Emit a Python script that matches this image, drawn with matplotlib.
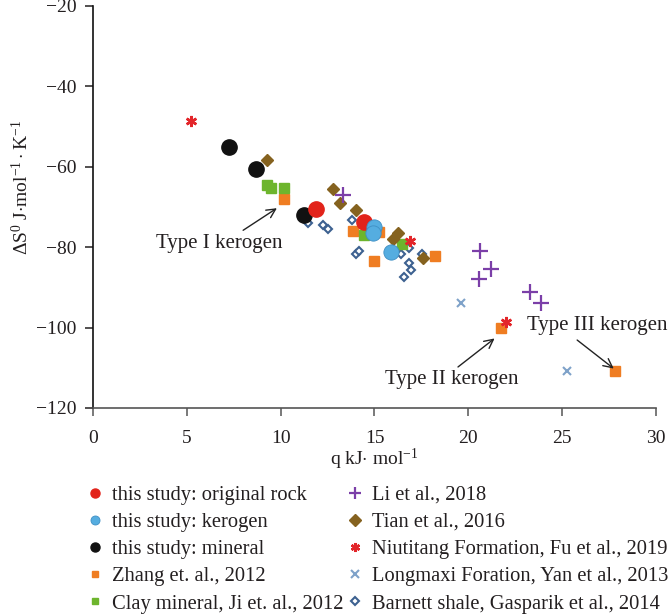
import matplotlib
matplotlib.use("Agg")
import matplotlib.pyplot as plt

plt.rcParams['font.family'] = ['Liberation Serif', 'DejaVu Serif']
plt.rcParams['mathtext.fontset'] = 'custom'
plt.rcParams['mathtext.rm'] = 'Liberation Serif'
plt.rcParams['mathtext.it'] = 'Liberation Serif:italic'

# q (kJ/mol) and entropy change (J/mol/K) for each data source
rock_q = [11.9, 14.45]
rock_s = [-70.5, -73.7]

kerogen_q = [14.95, 14.9, 15.9]
kerogen_s = [-74.9, -76.5, -81.1]

mineral_q = [7.25, 8.7, 11.25]
mineral_s = [-55.0, -60.5, -72.0]

zhang_q = [10.2, 13.85, 15.25, 14.95, 18.25, 21.75, 27.8]
zhang_s = [-68.0, -76.0, -76.2, -83.4, -82.2, -100.0, -110.8]

clay_q = [9.25, 9.5, 10.2, 14.45, 16.45]
clay_s = [-64.6, -65.2, -65.2, -77.0, -79.3]

li_q = [13.3, 20.6, 21.2, 20.55, 23.3, 23.9]
li_s = [-67.0, -80.9, -85.4, -87.9, -91.1, -93.9]

tian_q = [9.25, 12.8, 13.15, 14.0, 16.25, 16.0, 17.6]
tian_s = [-58.4, -65.5, -69.0, -70.7, -76.5, -78.0, -82.8]

fu_q = [5.2, 16.9, 22.0]
fu_s = [-48.5, -78.5, -98.5]

yan_q = [19.6, 25.25]
yan_s = [-93.8, -110.8]

barnett_q = [11.45, 12.25, 12.5, 13.8, 14.0, 14.15, 16.4, 16.85, 16.85, 16.95, 16.55, 17.55]
barnett_s = [-74.0, -74.6, -75.6, -73.2, -81.6, -81.0, -81.7, -80.2, -84.0, -85.6, -87.3, -81.8]

fig = plt.figure(figsize=(6.71, 6.16), dpi=100)
ax = fig.add_axes([0.1386, 0.3377, 0.839, 0.6526])

ax.plot(barnett_q, barnett_s, 'D', ms=4.5, mfc='white', mec='#3d6190', mew=1.5,
        ls='none', label='Barnett shale, Gasparik et al., 2014', zorder=2)
ax.plot(zhang_q, zhang_s, 's', ms=6.5, color='#ef7d22', ls='none',
        label='Zhang et. al., 2012', zorder=3)
ax.plot(clay_q, clay_s, 's', ms=6.5, color='#6db52d', ls='none',
        label='Clay mineral, Ji et. al., 2012', zorder=3)
ax.plot(tian_q, tian_s, 'D', ms=6.5, color='#85621f', ls='none',
        label='Tian et al., 2016', zorder=3)
ax.plot(li_q, li_s, '+', ms=11, color='#7b3fa8', mew=1.6, ls='none',
        label='Li et al., 2018', zorder=3)
ax.plot(fu_q, fu_s, marker=(6, 2, 0), ms=8, color='#e3262a', mew=1.8, ls='none',
        label='Niutitang Formation, Fu et al., 2019', zorder=3)
ax.plot(yan_q, yan_s, 'x', ms=6, color='#7fa2c9', mew=1.5, ls='none',
        label='Longmaxi Foration, Yan et al., 2013', zorder=3)
ax.plot(mineral_q, mineral_s, 'o', ms=11, color='#111111', ls='none',
        label='this study: mineral', zorder=4)
ax.plot(rock_q, rock_s, 'o', ms=11, color='#e2231a', ls='none',
        label='this study: original rock', zorder=4)
ax.plot(kerogen_q, kerogen_s, 'o', ms=11, color='#55ade0', mec='#3f8fc4', mew=0.6,
        ls='none', label='this study: kerogen', zorder=5)

# kerogen type labels with arrows
arrow = dict(arrowstyle='->', color='#222222', lw=1.0, shrinkA=0, shrinkB=0,
             mutation_scale=16)
ax.annotate('', xy=(9.8, -70.3), xytext=(8.0, -75.8), arrowprops=arrow)
ax.text(6.75, -79.2, 'Type I kerogen', fontsize=15, ha='center', va='center', color='#231f20')
ax.annotate('', xy=(21.4, -102.7), xytext=(19.45, -109.8), arrowprops=arrow)
ax.text(19.1, -112.8, 'Type II kerogen', fontsize=15, ha='center', va='center', color='#231f20')
ax.annotate('', xy=(27.75, -110.2), xytext=(25.8, -103.1), arrowprops=arrow)
ax.text(26.85, -99.6, 'Type III kerogen', fontsize=15, ha='center', va='center', color='#231f20')

ax.set_xlim(0, 30)
ax.set_ylim(-120, -20)
ax.set_xticks(range(0, 31, 5))
ax.set_yticks(range(-120, -19, 20))
ax.spines['top'].set_visible(False)
ax.spines['right'].set_visible(False)
ax.spines['left'].set_color('#111111')
ax.spines['bottom'].set_color('#555555')
ax.spines['left'].set_linewidth(1.2)
ax.spines['bottom'].set_linewidth(1.2)
ax.tick_params(axis='both', direction='out', length=6, width=1.1, labelsize=14,
               colors='#231f20')
ax.tick_params(axis='x', color='#555555', pad=10)
ax.tick_params(axis='y', pad=6)

ax.set_xlabel(r'q kJ$\cdot$ mol$^{-1}$', fontsize=14, color='#231f20', labelpad=0)
ax.set_ylabel(r'$\Delta$S$^{0}$ J$\cdot$mol$^{-1}\cdot$K$^{-1}$', fontsize=14,
              color='#231f20')
ax.yaxis.set_label_coords(-0.108, 0.548)

# legend below the axes, two columns
handles, labels = ax.get_legend_handles_labels()
order = ['this study: original rock', 'this study: kerogen', 'this study: mineral',
         'Zhang et. al., 2012', 'Clay mineral, Ji et. al., 2012',
         'Li et al., 2018', 'Tian et al., 2016', 'Niutitang Formation, Fu et al., 2019',
         'Longmaxi Foration, Yan et al., 2013', 'Barnett shale, Gasparik et al., 2014']
legend_ms = [6.5, 6.5, 6.5, 5, 5, 8.5, 6, 6.5, 5.5, 4.5]
lookup = dict(zip(labels, handles))
leg = fig.legend([lookup[k] for k in order], order, loc='upper left',
                 bbox_to_anchor=(0.132, 0.212), ncol=2, frameon=False, fontsize=14.8,
                 handlelength=0.6, handletextpad=0.55,
                 columnspacing=0.25, labelspacing=0.38, borderaxespad=0, borderpad=0)
for h, ms in zip(leg.legend_handles, legend_ms):
    h.set_markersize(ms)
for t in leg.get_texts():
    t.set_color('#231f20')

fig.savefig('out.png', dpi=100)
